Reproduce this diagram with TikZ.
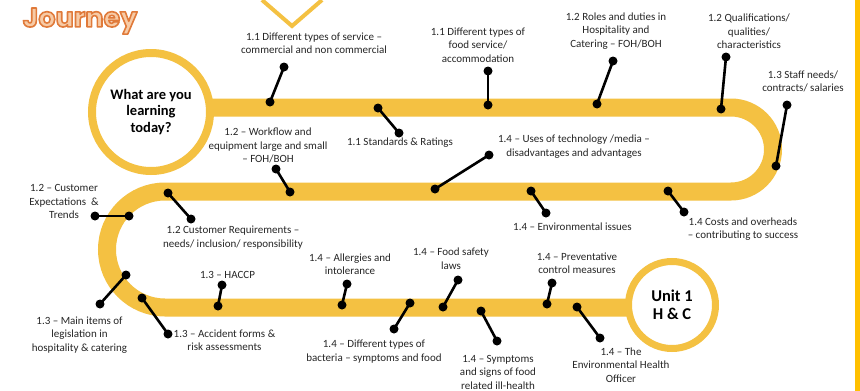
\documentclass[tikz,border=0pt]{standalone}
\usepackage{fontspec}
\setmainfont{Carlito}
\newfontfamily\titlefont{Poppins}

\definecolor{band}{HTML}{F4C142}
\definecolor{edgebar}{HTML}{FFC000}
\definecolor{titlefill}{HTML}{F7CBA6}
\definecolor{ink}{HTML}{262626}

% outlined text: fill in the current colour, stroke in orange
\newcommand{\outlinedtext}[1]{%
  \special{pdf:literal direct 0.878 0.478 0.227 RG 1.6 w 1 j 2 Tr}%
  #1%
  \special{pdf:literal direct 0 Tr}}

\tikzset{
  lbl/.style={align=center, font=\fontsize{11}{13.5}\selectfont, text=ink, inner sep=0pt},
  dot/.style={circle, fill=black, minimum size=9pt, inner sep=0pt},
  pinline/.style={line width=2.6pt, black},
  ring/.style={circle, draw=band, fill=white, inner sep=0pt, align=center, text=black},
  titletext/.style={font=\titlefont\bfseries\fontsize{27}{30}\selectfont, inner sep=0pt},
}

\begin{document}
\begin{tikzpicture}[x=1pt,y=-1pt]
\useasboundingbox (0,0) rectangle (860,391);
\fill[white] (0,0) rectangle (860,391);

% side bar and top chevron
\fill[edgebar] (855,0) rectangle (860,391);
\draw[band, line width=4pt] (262,0) -- (292,26) -- (322,0);

% outlined title
\node[titletext, text=titlefill] (title) at (80,21) {\outlinedtext{Journey}};

% the winding road
\draw[band, line width=18pt]
  (200,107.5) -- (731,107.5)
  arc[start angle=-90, end angle=90, radius=42]
  -- (165,191.5)
  arc[start angle=270, end angle=90, radius=58]
  -- (635,307.5);

% start and finish circles
\node[ring, line width=8pt, minimum size=118pt,
      font=\bfseries\fontsize{14.5}{16.5}\selectfont] (start) at (151,112)
  {What are you\\learning\\today?};
\node[ring, line width=7pt, minimum size=87pt,
      font=\bfseries\fontsize{16.5}{18}\selectfont] (finish) at (672,305)
  {Unit 1\\H \& C};

% labels
\node[lbl] (l1)  at (314,43)    {1.1 Different types of service --\\commercial and non commercial};
\node[lbl] (l2)  at (478,45)    {1.1 Different types of\\food service/\\accommodation};
\node[lbl] (l3)  at (616,31)    {1.2 Roles and duties in\\Hospitality and\\Catering -- FOH/BOH};
\node[lbl] (l4)  at (749,31.5)  {1.2 Qualifications/\\qualities/\\characteristics};
\node[lbl] (l5)  at (803,81.5)  {1.3 Staff needs/\\contracts/ salaries};
\node[lbl] (l6)  at (268,145.5) {1.2 -- Workflow and\\equipment large and small\\-- FOH/BOH};
\node[lbl] (l7)  at (400,143)   {1.1 Standards \& Ratings};
\node[lbl] (l8)  at (574,146.5) {1.4 -- Uses of technology /media --\\disadvantages and advantages};
\node[lbl] (l9)  at (572.5,227) {1.4 -- Environmental issues};
\node[lbl] (l10) at (743,229)   {1.4 Costs and overheads\\-- contributing to success};
\node[lbl] (l11) at (64,201.5)  {1.2 -- Customer\\Expectations~~\&\\Trends};
\node[lbl] (l12) at (233,237.5) {1.2 Customer Requirements --\\needs/ inclusion/ responsibility};
\node[lbl] (l13) at (227.5,275) {1.3 -- HACCP};
\node[lbl] (l14) at (79.5,335)  {1.3 -- Main items of\\legislation in\\hospitality \& catering};
\node[lbl] (l15) at (224.5,340) {1.3 -- Accident forms \&\\risk assessments};
\node[lbl] (l16) at (350,264)   {1.4 -- Allergies and\\intolerance};
\node[lbl] (l17) at (451,258.5) {1.4 -- Food safety\\laws};
\node[lbl] (l18) at (374,351.5) {1.4 -- Different types of\\bacteria -- symptoms and food};
\node[lbl] (l19) at (498,372)   {1.4 -- Symptoms\\and signs of food\\related ill-health};
\node[lbl] (l20) at (577,263)   {1.4 -- Preventative\\control measures};
\node[lbl] (l21) at (621,365)   {1.4 -- The\\Environmental Health\\Officer};

% pins: a on the road, b at the free end
\foreach \n/\ax/\ay/\bx/\by in {
   1/270/102/284/67,
   2/488/105/488/71,
   3/597/104/613/61,
   4/721/109/726/57,
   5/776/166/787/105,
   6/290/192/276/169,
   7/378/108/399/133,
   8/435/189/489/155,
   9/531/191/546/213,
  10/668/191/684/212,
  11/129/216/95/216,
  12/168/193/191/219,
  13/218/306/222/285,
  14/126/275/100/304,
  15/142/298/168/334,
  16/342/305/347/284,
  17/443/307/458/280,
  18/410/303/394/329,
  19/481/311/497/341,
  20/547/304/552/283,
  21/577/307/600/338}{
  \node[dot] (p\n a) at (\ax,\ay) {};
  \node[dot] (p\n b) at (\bx,\by) {};
  \draw[pinline] (p\n a.center) -- (p\n b.center);
}
\end{tikzpicture}
\end{document}
